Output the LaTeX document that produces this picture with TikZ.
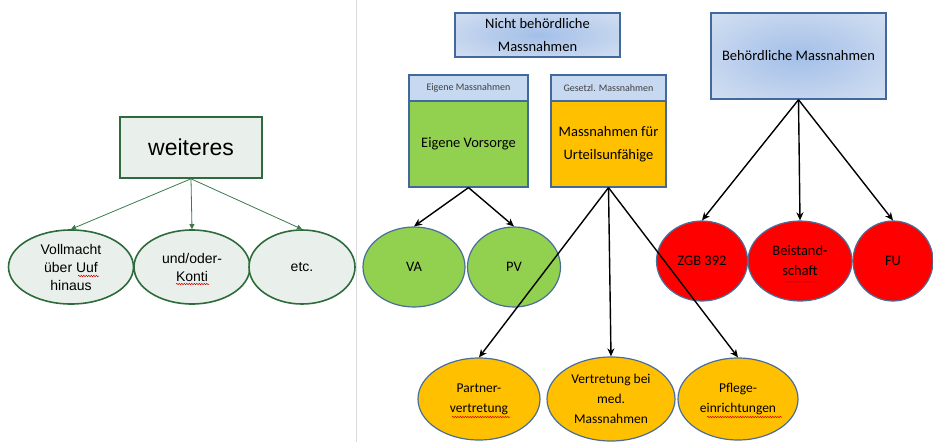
\documentclass[tikz,border=0pt]{standalone}
\usepackage{fontspec}
\setmainfont{Carlito}
\newfontfamily\arialf{Liberation Sans}
\usetikzlibrary{shapes.geometric,arrows.meta,decorations.pathmorphing}
\definecolor{gborder}{HTML}{2E6B3C}
\definecolor{garrow}{HTML}{3C7A4C}
\definecolor{gfill}{HTML}{E9F0EB}
\definecolor{bborder}{HTML}{41699C}
\definecolor{ebord}{HTML}{4A6E9A}
\definecolor{vgreen}{HTML}{92D050}
\definecolor{vorange}{HTML}{FFC000}
\definecolor{vred}{HTML}{FF0000}
\definecolor{hdrblue}{HTML}{C6D9F1}
\definecolor{shin}{HTML}{A3BFE8}
\definecolor{shout}{HTML}{DCE5F3}
\definecolor{sepgray}{HTML}{DADADA}
\pgfdeclareradialshading{bluerad}{\pgfpoint{0bp}{0bp}}{color(0bp)=(shin); color(42bp)=(shout); color(50bp)=(shout)}
\tikzset{
  lbox/.style={draw=gborder, line width=1.6pt, fill=gfill, minimum width=142pt, minimum height=61pt, inner sep=0pt, font=\arialf\fontsize{23}{28}\selectfont},
  lell/.style={ellipse, draw=gborder, line width=1.6pt, fill=gfill, inner sep=0pt, align=center, minimum height=74pt, font=\arialf\fontsize{14}{18}\selectfont},
  larr/.style={draw=garrow, line width=0.8pt, -{Triangle[length=5pt,width=5pt]}},
  blbox/.style={draw=bborder, line width=1.5pt, shading=bluerad, align=center, inner sep=0pt, font=\fontsize{14.5}{23}\selectfont},
  hdr/.style={draw=bborder, line width=1.2pt, fill=hdrblue, inner sep=0pt, font=\fontsize{10}{12}\selectfont, text=black!75},
  bodybox/.style={draw=bborder, line width=1.2pt, inner sep=0pt, align=center, minimum height=86pt, font=\fontsize{14.5}{23}\selectfont},
  rell/.style={ellipse, draw=ebord, line width=1.2pt, inner sep=0pt, align=center, font=\fontsize{14.5}{20}\selectfont},
  bell/.style={rell, font=\fontsize{13.5}{20}\selectfont},
  barr/.style={line width=1.4pt, -{Stealth[length=8pt,width=7pt,inset=2.5pt]}},
  squig/.style={draw=red!85!black, line width=0.5pt, decorate, decoration={snake, amplitude=0.7pt, segment length=2.5pt}}
}
\begin{document}
\begin{tikzpicture}[x=1pt,y=-1pt]
\useasboundingbox (0,0) rectangle (933,442);
\fill[white] (0,0) rectangle (933,442);
\draw[sepgray, line width=1pt] (356,0) -- (356,442);

% left part
\node[lbox] (weit) at (191,147.5) {weiteres};
\node[lell, minimum width=125pt] (voll) at (71,267) {Vollmacht\\über Uuf\\hinaus};
\node[lell, minimum width=116pt] (und) at (192,267) {und/oder-\\Konti};
\node[lell, minimum width=106pt] (etc) at (302,267) {etc.};
\draw[larr] (weit.south) -- (voll.north);
\draw[larr] (weit.south) -- (und.north);
\draw[larr] (weit.south) -- (etc.north);

% right part
\node[blbox, minimum width=165pt, minimum height=44pt] (nb) at (537.5,35) {Nicht behördliche\\Massnahmen};
\node[hdr, minimum width=119pt, minimum height=26pt] (eh) at (468.5,88) {Eigene Massnahmen};
\node[bodybox, fill=vgreen, minimum width=119pt] (eb) at (468.5,144) {Eigene Vorsorge};
\node[hdr, minimum width=115pt, minimum height=26pt] (gh) at (608.5,88) {Gesetzl. Massnahmen};
\node[bodybox, fill=vorange, minimum width=115pt] (gb) at (608.5,144) {Massnahmen für\\Urteilsunfähige};
\node[blbox, minimum width=175pt, minimum height=86pt] (beh) at (798.5,56) {Behördliche Massnahmen};

\node[rell, fill=vgreen, minimum width=102pt, minimum height=80pt] (va) at (414,267) {VA};
\node[rell, fill=vgreen, minimum width=93pt, minimum height=80pt] (pv) at (514,267) {PV};

\node[rell, fill=vred, minimum width=91pt, minimum height=80pt] (zgb) at (702,261) {ZGB 392};
\node[rell, fill=vred, minimum width=104pt, minimum height=80pt] (bei) at (800,261) {Beistand-\\schaft};
\node[rell, fill=vred, minimum width=80pt, minimum height=80pt] (fu) at (893,261) {FU};

\node[bell, fill=vorange, minimum width=122pt, minimum height=82pt] (par) at (479,399) {Partner-\\vertretung};
\node[bell, fill=vorange, minimum width=128pt, minimum height=84pt] (ver) at (611,399) {Vertretung bei\\med.\\Massnahmen};
\node[bell, fill=vorange, minimum width=120pt, minimum height=82pt] (pfl) at (738,399) {Pflege-\\einrichtungen};

\draw[barr] (eb.south) -- (va.north);
\draw[barr] (eb.south) -- (pv.north);
\draw[barr] (beh.south) -- (zgb.north);
\draw[barr] (beh.south) -- (bei.north);
\draw[barr] (beh.south) -- (fu.north);
\draw[barr] (gb.south) -- (par.north);
\draw[barr] (gb.south) -- (ver.north);
\draw[barr] (gb.south) -- (pfl.north);

% spell-check underlines
\draw[squig] (78,276) -- (99,276);
\draw[squig] (176,284) -- (209,284);
\draw[squig] (784,282) -- (818,282);
\draw[squig] (452,417) -- (510,417);
\draw[squig] (707,417) -- (782,417);
\end{tikzpicture}
\end{document}
